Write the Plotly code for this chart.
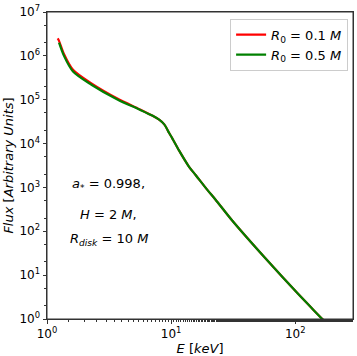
import plotly.graph_objects as go

# energies (keV) and fluxes
energy = [1.22, 1.25, 1.37, 1.62, 2.28, 3.72, 5.55, 7.1, 8.0, 8.8, 9.64, 10.24,
          11.6, 13.9, 15.8, 19.5, 22.8, 30.9, 57.2, 105.7, 165, 200]
flux_r01 = [2.5e6, 2.2e6, 1.1e6, 4.8e5, 2.35e5, 1.05e5, 6.1e4, 4.3e4, 3.5e4, 2.75e4, 1.74e4, 1.3e4,
            6.9e3, 3.0e3, 1.9e3, 890, 525, 178, 24.5, 3.7, 1.0, 0.56]
flux_r05 = [None, 2.0e6, 1.0e6, 4.4e5, 2.2e5, 1.0e5, 6.0e4, 4.3e4, 3.5e4, 2.75e4, 1.74e4, 1.3e4,
            6.9e3, 3.0e3, 1.9e3, 890, 525, 178, 24.5, 3.7, 1.0, 0.56]

series_names = ["<i>R</i><sub>0</sub> = 0.1 <i>M</i>", "<i>R</i><sub>0</sub> = 0.5 <i>M</i>"]
series_colors = ["#ff0000", "#008000"]

y_tickvals = [1, 10, 100, 1e3, 1e4, 1e5, 1e6, 1e7]
y_ticktext = ["10<sup>%d</sup>" % i for i in range(8)]
x_tickvals = [1, 10, 100]
x_ticktext = ["10<sup>0</sup>", "10<sup>1</sup>", "10<sup>2</sup>"]

params_text = ["<i>a</i><sub>*</sub> = 0.998,", "<i>H</i> = 2 <i>M</i>,",
               "<i>R</i><sub><i>disk</i></sub> = 10 <i>M</i>"]

fig = go.Figure()
for ys, name, col in zip([flux_r01, flux_r05], series_names, series_colors):
    fig.add_trace(go.Scatter(x=energy, y=ys, mode="lines", name=name,
                             line=dict(color=col, width=2.2, shape="spline", smoothing=0.8)))

axis_common = dict(type="log", showgrid=False, zeroline=False, showline=True,
                   linecolor="#333", linewidth=1, mirror=True, ticks="outside",
                   ticklen=3.5, tickcolor="#333", ticklabeloverflow="allow",
                   minor=dict(ticks="outside", ticklen=2, tickcolor="#333", showgrid=False))

fig.update_xaxes(range=[0, 2.465], tickvals=x_tickvals, ticktext=x_ticktext,
                 title=dict(text="<i>E</i> [<i>keV</i>]", standoff=1,
                            font=dict(family="DejaVu Sans", size=13)),
                 **axis_common)
fig.update_yaxes(range=[0, 7.0005], tickvals=y_tickvals, ticktext=y_ticktext,
                 title=dict(text="<i>Flux</i> [<i>Arbitrary Units</i>]", standoff=2,
                            font=dict(family="DejaVu Sans", size=13)),
                 **axis_common)

# axes frame
fig.add_shape(type="rect", xref="paper", yref="paper", x0=0, x1=1, y0=0, y1=1,
              line=dict(color="#333", width=1), layer="above")

for txt, yy in zip(params_text, [182, 212, 238]):
    fig.add_annotation(text=txt, xref="paper", yref="paper",
                       x=(109 - 47) / 307, y=(319 - yy) / 313,
                       xanchor="center", yanchor="middle",
                       showarrow=False, font=dict(family="DejaVu Sans", size=13))

fig.update_layout(
    width=357, height=356,
    margin=dict(l=47, r=3, t=6, b=37),
    plot_bgcolor="white", paper_bgcolor="white",
    font=dict(family="DejaVu Sans", size=12, color="black"),
    legend=dict(x=0.984, y=0.978, xanchor="right", yanchor="top", itemwidth=30,
                bgcolor="rgba(255,255,255,0.8)", bordercolor="#ccc", borderwidth=1,
                font=dict(family="DejaVu Sans", size=13)),
)

fig.write_html("out.html", config={"displayModeBar": False},
               post_script="document.body.style.margin='0';")
